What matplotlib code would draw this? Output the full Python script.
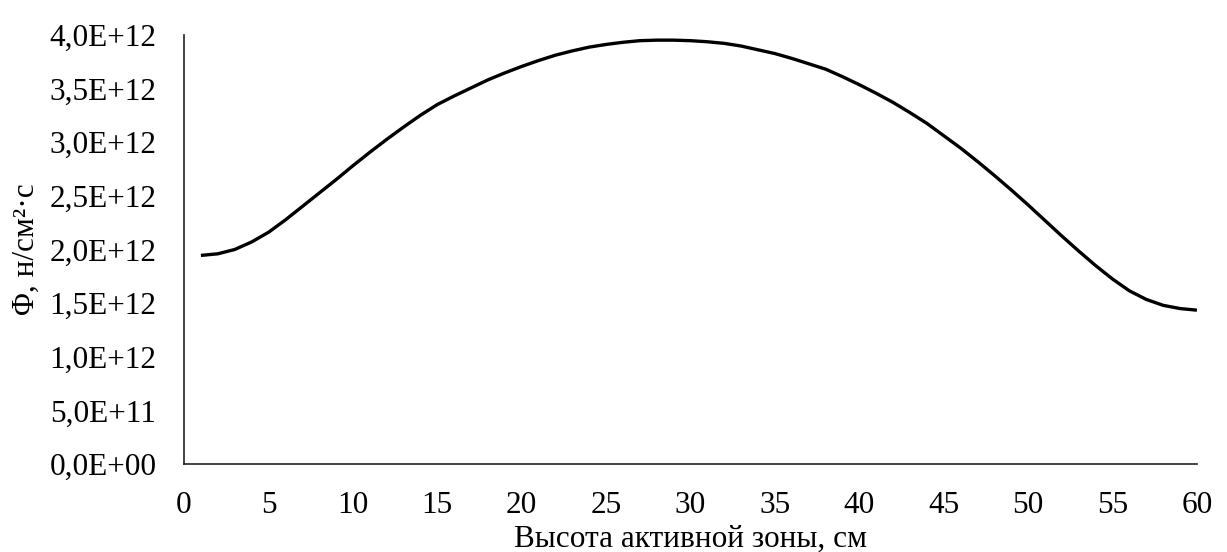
import numpy as np
import matplotlib.pyplot as plt
from matplotlib.ticker import FuncFormatter

plt.rcParams['font.family'] = ['Liberation Serif', 'DejaVu Serif']

# высота активной зоны, см
height = list(range(1, 61))
# плотность потока, 1E+12 н/см2·с
flux = [1.945, 1.96, 2.00, 2.07, 2.16, 2.275, 2.40, 2.525, 2.65, 2.78,
        2.905, 3.025, 3.14, 3.25, 3.35, 3.43, 3.505, 3.58, 3.645, 3.705,
        3.76, 3.81, 3.85, 3.885, 3.91, 3.93, 3.945, 3.95, 3.95, 3.945,
        3.935, 3.92, 3.895, 3.86, 3.825, 3.78, 3.73, 3.68, 3.61, 3.535,
        3.455, 3.37, 3.275, 3.175, 3.06, 2.945, 2.82, 2.69, 2.555, 2.415,
        2.27, 2.125, 1.985, 1.85, 1.725, 1.615, 1.535, 1.48, 1.45, 1.435]
x_ticks = list(range(0, 61, 5))
y_ticks = [0, 0.5e12, 1.0e12, 1.5e12, 2.0e12, 2.5e12, 3.0e12, 3.5e12, 4.0e12]

fig = plt.figure(figsize=(12.27, 5.52), dpi=100)
ax = fig.add_axes([0.15, 0.159, 0.8255, 0.778])

ax.plot(height, np.array(flux) * 1e12, color='black', lw=2.4,
        solid_capstyle='butt', solid_joinstyle='round')

ax.set_xlim(0, 60)
ax.set_ylim(0, 4.0e12)
ax.set_xticks(x_ticks)
ax.set_yticks(y_ticks)
ax.yaxis.set_major_formatter(FuncFormatter(lambda v, p: f"{v:.1E}".replace('.', ',')))
ax.tick_params(length=0, labelsize=22.5)
ax.tick_params(axis='y', pad=20)
ax.tick_params(axis='x', pad=19)

for s in ['top', 'right']:
    ax.spines[s].set_visible(False)
for s in ['left', 'bottom']:
    ax.spines[s].set_linewidth(1.2)
    ax.spines[s].set_color('#222222')

ax.set_xlabel("Высота активной зоны, см", fontsize=22.5, labelpad=4)
ax.set_ylabel("Φ, н/см²·с", fontsize=22.5, labelpad=6)

fig.savefig("out.png", dpi=100)
